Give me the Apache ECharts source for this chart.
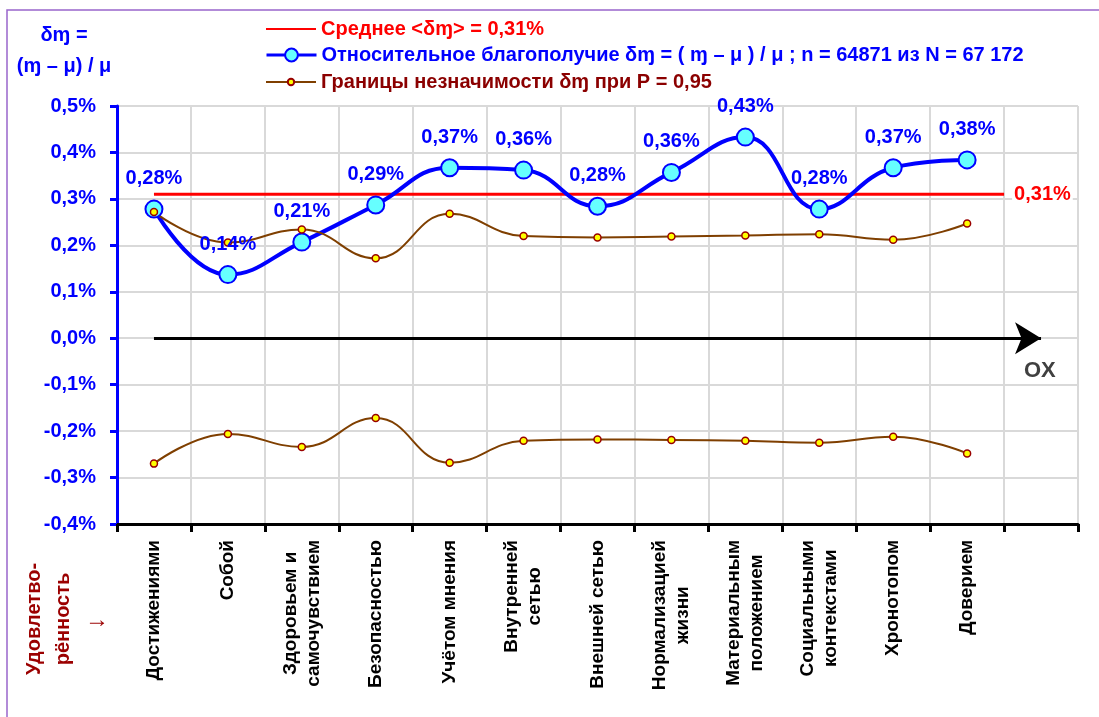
<!DOCTYPE html>
<html>
<head>
<meta charset="utf-8">
<script src="https://cdn.jsdelivr.net/npm/echarts@6/dist/echarts.min.js"></script>
<style>
  html, body { margin: 0; padding: 0; background: #fff; }
  #chart { width: 1099px; height: 717px; }
</style>
</head>
<body>
<div id="chart"></div>
<script>
// категории (последний слот пустой)
const categories = ['Достижениями', 'Собой', 'Здоровьем и\nсамочувствием', 'Безопасностью', 'Учётом мнения',
  'Внутренней\nсетью', 'Внешней сетью', 'Нормализацией\nжизни', 'Материальным\nположением',
  'Социальными\nконтекстами', 'Хронотопом', 'Доверием', ''];
// относительное благополучие, %
const welfare = [0.278, 0.137, 0.207, 0.287, 0.367, 0.362, 0.284, 0.357, 0.433, 0.278, 0.367, 0.384];
// границы незначимости, %
const upperBound = [0.272, 0.206, 0.234, 0.172, 0.268, 0.220, 0.217, 0.219, 0.221, 0.224, 0.212, 0.247];
const lowerBound = [-0.270, -0.206, -0.234, -0.172, -0.268, -0.221, -0.218, -0.219, -0.221, -0.225, -0.212, -0.248];
// среднее
const meanValue = 0.31;
const meanSpan = [0, 11.5];
const oxSpan = [0, 12];

const FONT = "'Liberation Sans', Arial, 'DejaVu Sans', sans-serif";
const MEAN_NAME = 'Среднее <δɱ> = 0,31%';
const WELFARE_NAME = 'Относительное благополучие δɱ = ( ɱ – μ ) / μ ; n = 64871 из N = 67 172';
const BOUND_NAME = 'Границы незначимости δɱ при P = 0,95';

function pct(v, d) {
  return v.toFixed(d).replace('.', ',') + '%';
}

// одна строка легенды (у каждой свой размер значка)
function legendRow(top, itemHeight, item) {
  return {
    orient: 'vertical',
    left: 265,
    top: top,
    padding: 0,
    itemWidth: 50,
    itemHeight: itemHeight,
    itemTextGap: 8,
    textStyle: { fontSize: 20, fontWeight: 'bold', fontFamily: FONT },
    data: [item]
  };
}

let myChart = echarts.init(document.getElementById('chart'));
let option = {
  animation: false,
  backgroundColor: '#fff',
  textStyle: { fontFamily: FONT },
  grid: { left: 117, right: 21, top: 106, bottom: 193 },
  legend: [
    legendRow(19, 14, {
      name: MEAN_NAME, textStyle: { color: '#FF0000' },
      itemStyle: { color: 'rgba(0,0,0,0)', borderColor: 'rgba(0,0,0,0)' },
      lineStyle: { width: 2 }
    }),
    legendRow(45, 16, { name: WELFARE_NAME, textStyle: { color: '#0000FF' }, lineStyle: { width: 3 } }),
    legendRow(72, 8, { name: BOUND_NAME, textStyle: { color: '#8B0000' }, lineStyle: { width: 2 } })
  ],
  xAxis: [{
    type: 'category',
    data: categories,
    boundaryGap: true,
    axisLine: { onZero: false, lineStyle: { color: '#000', width: 3 } },
    axisTick: { show: true, interval: 0, length: 8, lineStyle: { color: '#000', width: 3 } },
    splitLine: { show: true, interval: 0, lineStyle: { color: '#D9D9D9', width: 2 } },
    axisLabel: {
      interval: 0,
      rotate: 90,
      margin: 16,
      formatter: function (v) {
        return v.split('\n').map(function (s) { return '{c|' + s + '}'; }).join('\n');
      },
      rich: {
        c: { align: 'center', fontSize: 19, fontWeight: 'bold', color: '#000', fontFamily: FONT, lineHeight: 23 }
      }
    }
  }, {
    type: 'value',
    show: false,
    min: -0.5,
    max: 12.5,
    axisLine: { onZero: false },
    splitLine: { show: false }
  }],
  yAxis: {
    type: 'value',
    min: -0.4,
    max: 0.5,
    interval: 0.1,
    axisLine: { show: true, onZero: false, lineStyle: { color: '#0000FF', width: 3 } },
    axisTick: { show: true, length: 7, lineStyle: { color: '#0000FF', width: 3 } },
    splitLine: { lineStyle: { color: '#D9D9D9', width: 2 } },
    axisLabel: {
      margin: 21,
      color: '#0000FF',
      fontSize: 20,
      fontWeight: 'bold',
      formatter: function (v) { return pct(v, 1); }
    }
  },
  series: [{
    name: MEAN_NAME,
    type: 'line',
    xAxisIndex: 1,
    data: meanSpan.map(function (x) { return [x, meanValue]; }),
    symbol: 'none',
    lineStyle: { color: '#FF0000', width: 3 },
    itemStyle: { color: '#FF0000' },
    endLabel: {
      show: true,
      formatter: pct(meanValue, 2),
      color: '#FF0000',
      fontSize: 20,
      fontWeight: 'bold',
      distance: 8,
      backgroundColor: '#fff',
      padding: [2, 2]
    },
    markLine: {
      silent: true,
      symbol: ['none', 'arrow'],
      symbolSize: [24, 26],
      label: { show: false },
      lineStyle: { color: '#000', width: 3, type: 'solid' },
      data: [[{ coord: [oxSpan[0], 0] }, { coord: [oxSpan[1], 0] }]]
    }
  }, {
    name: WELFARE_NAME,
    type: 'line',
    data: welfare,
    smooth: 0.45,
    symbol: 'circle',
    symbolSize: 17,
    lineStyle: { color: '#0000FF', width: 4 },
    itemStyle: { color: '#66FFFF', borderColor: '#0000FF', borderWidth: 2 },
    label: {
      show: true,
      position: 'top',
      distance: 11,
      color: '#0000FF',
      fontSize: 20,
      fontWeight: 'bold',
      formatter: function (p) { return pct(p.value, 2); }
    }
  }, {
    name: BOUND_NAME,
    type: 'line',
    data: upperBound,
    smooth: 0.45,
    symbol: 'circle',
    symbolSize: 7,
    lineStyle: { color: '#7F3F00', width: 2 },
    itemStyle: { color: '#FFFF00', borderColor: '#990000', borderWidth: 1.5 }
  }, {
    name: BOUND_NAME,
    type: 'line',
    data: lowerBound,
    smooth: 0.45,
    symbol: 'circle',
    symbolSize: 7,
    lineStyle: { color: '#7F3F00', width: 2 },
    itemStyle: { color: '#FFFF00', borderColor: '#990000', borderWidth: 1.5 }
  }],
  graphic: [{
    type: 'rect',
    silent: true,
    shape: { x: 7, y: 10, width: 1400, height: 1000 },
    style: { fill: 'none', stroke: '#9966CC', lineWidth: 1.5 }
  }, {
    type: 'text',
    x: 64,
    y: 20,
    style: {
      text: 'δɱ =\n(ɱ – μ) / μ',
      align: 'center',
      fill: '#0000FF',
      font: 'bold 20px ' + FONT,
      lineHeight: 31
    }
  }, {
    type: 'text',
    x: 1024,
    y: 360,
    style: { text: 'OX', fill: '#404040', font: 'bold 22px ' + FONT }
  }, {
    type: 'text',
    x: 49,
    y: 619,
    rotation: Math.PI / 2,
    style: {
      text: 'Удовлетво-\nрённость',
      align: 'center',
      verticalAlign: 'middle',
      fill: '#9B0000',
      font: 'bold 20px ' + FONT,
      lineHeight: 29
    }
  }, {
    type: 'text',
    x: 97,
    y: 620,
    style: {
      text: '→',
      align: 'center',
      verticalAlign: 'middle',
      fill: '#9B0000',
      font: '24px ' + FONT
    }
  }]
};
myChart.setOption(option);
</script>
</body>
</html>
